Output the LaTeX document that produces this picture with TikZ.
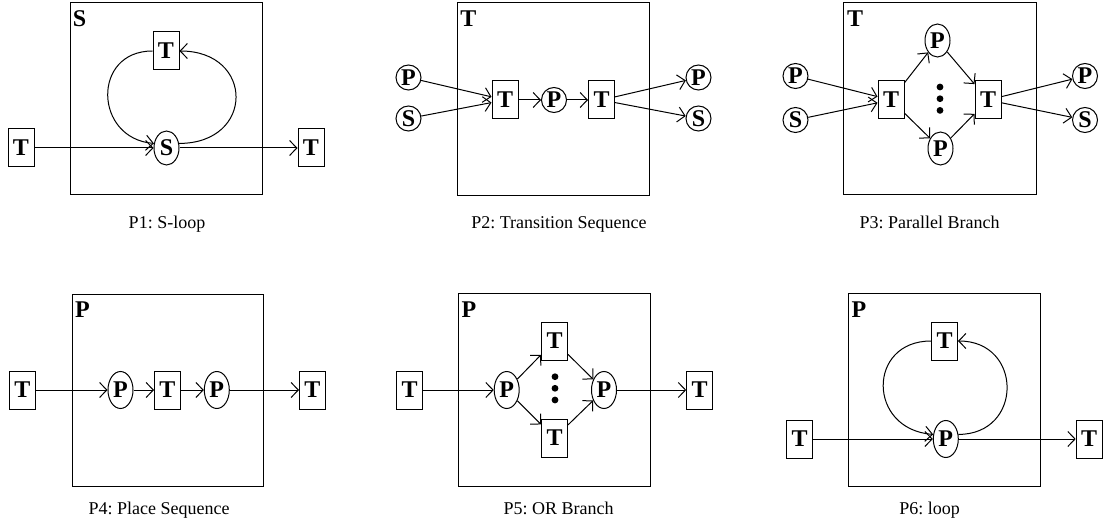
\documentclass[tikz,border=0pt]{standalone}
\usepackage{fontspec}
\setmainfont{Liberation Serif}
\usetikzlibrary{arrows.meta,shapes.geometric}
\frenchspacing
\begin{document}
\begin{tikzpicture}[x=0.5pt,y=-0.5pt,line width=0.5pt,
  lbl/.style={font=\fontsize{12}{14}\selectfont\bfseries,inner sep=0pt},
  tbox/.style={draw,lbl,minimum width=13pt,minimum height=19pt},
  pl/.style={draw,ellipse,lbl,minimum width=12.5pt,minimum height=#1},
  pl/.default=18.5pt,
  frame/.style={draw,line width=0.5pt},
  arr/.style={-{Straight Barb[length=3.6pt,width=7.5pt]}},
  captxt/.style={font=\fontsize{9}{11}\selectfont\frenchspacing,anchor=base},
  dot/.style={fill=black}]
\useasboundingbox (0,0) rectangle (1104,524);

% ---------- P1 ----------
\draw[frame] (70,3) rectangle (262,195);
\node[lbl] (p1l) at (79.5,19) {S};
\node[tbox] (p1a) at (21,148) {T};
\node[pl=17pt] (p1s) at (166.5,148) {S};
\node[tbox] (p1t) at (166,51) {T};
\node[tbox] (p1b) at (311,148) {T};
\draw[arr] (p1a) -- (p1s);
\draw[arr] (p1s) -- (p1b);
\draw[arr] (p1t.west) .. controls +(-61,0) and +(-60,-5) .. (p1s.160);
\draw[arr] (p1s.20) .. controls +(76,0) and +(75,0) .. (p1t.east);
\node[captxt] (p1c) at (167,228.3) {P1: S-loop};

% ---------- P2 ----------
\draw[frame] (457,3) rectangle (649,196);
\node[lbl] (p2l) at (468.3,19) {T};
\node[pl=12.5pt] (p2p) at (408.5,77.5) {P};
\node[pl=12.5pt] (p2s) at (408.5,118.5) {S};
\node[tbox] (p2t1) at (505,100) {T};
\node[pl=12.5pt] (p2m) at (554,100) {P};
\node[tbox] (p2t2) at (601.5,100) {T};
\node[pl=12.5pt] (p2q) at (698.5,77.5) {P};
\node[pl=12.5pt] (p2r) at (698.5,118.5) {S};
\draw[arr] (p2p) -- (p2t1);
\draw[arr] (p2s) -- (p2t1);
\draw[arr] (p2t1) -- (p2m);
\draw[arr] (p2m) -- (p2t2);
\draw[arr] (p2t2) -- (p2q);
\draw[arr] (p2t2) -- (p2r);
\node[captxt] (p2c) at (559,228.3) {P2: Transition Sequence};

% ---------- P3 ----------
\draw[frame] (843,3) rectangle (1036,195);
\node[lbl] (p3l) at (855,18.5) {T};
\node[pl=12.5pt] (p3p) at (795.5,76) {P};
\node[pl=12.5pt] (p3s) at (795.5,120) {S};
\node[tbox] (p3t1) at (891,100) {T};
\node[pl=16.5pt] (p3u) at (937.5,40.5) {P};
\node[pl=16.5pt] (p3d) at (940.5,148.5) {P};
\node[tbox] (p3t2) at (988,100) {T};
\node[pl=12.5pt] (p3q) at (1085,76) {P};
\node[pl=12.5pt] (p3r) at (1085,120) {S};
\fill[dot] (940,87) circle (1.7pt) (940,98.7) circle (1.7pt) (940,110.4) circle (1.7pt);
\draw[arr] (p3p) -- (p3t1);
\draw[arr] (p3s) -- (p3t1);
\draw[arr] (p3t1) -- (p3u);
\draw[arr] (p3t1) -- (p3d);
\draw[arr] (p3u) -- (p3t2);
\draw[arr] (p3d) -- (p3t2);
\draw[arr] (p3t2) -- (p3q);
\draw[arr] (p3t2) -- (p3r);
\node[captxt] (p3c) at (929.7,228.3) {P3: Parallel Branch};

% ---------- P4 ----------
\draw[frame] (72,294) rectangle (263,486);
\node[lbl] (p4l) at (82.5,309.5) {P};
\node[tbox] (p4a) at (22.5,390) {T};
\node[pl] (p4p1) at (120.5,390) {P};
\node[tbox] (p4t) at (167.5,390) {T};
\node[pl] (p4p2) at (216.8,390) {P};
\node[tbox] (p4b) at (312.5,390) {T};
\draw[arr] (p4a) -- (p4p1);
\draw[arr] (p4p1) -- (p4t);
\draw[arr] (p4t) -- (p4p2);
\draw[arr] (p4p2) -- (p4b);
\node[captxt] (p4c) at (159,514.5) {P4: Place Sequence};

% ---------- P5 ----------
\draw[frame] (458.5,293.5) rectangle (650,486);
\node[lbl] (p5l) at (469,310) {P};
\node[tbox] (p5a) at (409.5,390) {T};
\node[pl] (p5p1) at (506.7,390) {P};
\node[tbox] (p5u) at (554.5,341) {T};
\node[tbox] (p5d) at (554.5,438) {T};
\node[pl] (p5p2) at (604,390) {P};
\node[tbox] (p5b) at (699.7,390) {T};
\fill[dot] (555,376.7) circle (1.7pt) (555,388.3) circle (1.7pt) (555,400) circle (1.7pt);
\draw[arr] (p5a) -- (p5p1);
\draw[arr] (p5p1) -- (p5u);
\draw[arr] (p5p1) -- (p5d);
\draw[arr] (p5u) -- (p5p2);
\draw[arr] (p5d) -- (p5p2);
\draw[arr] (p5p2) -- (p5b);
\node[captxt] (p5c) at (558.7,514.5) {P5: OR Branch};

% ---------- P6 ----------
\draw[frame] (848.5,293.5) rectangle (1040,486);
\node[lbl] (p6l) at (859,310) {P};
\node[tbox] (p6a) at (799.7,439) {T};
\node[tbox] (p6t) at (944.5,341) {T};
\node[pl] (p6p) at (945.8,439) {P};
\node[tbox] (p6b) at (1089.2,439) {T};
\draw[arr] (p6a) -- (p6p);
\draw[arr] (p6p) -- (p6b);
\draw[arr] (p6t.west) .. controls +(-64,0) and +(-66,-5) .. (p6p.160);
\draw[arr] (p6p.20) .. controls +(65,0) and +(65,0) .. (p6t.east);
\node[captxt] (p6c) at (929.7,514.5) {P6: loop};
\end{tikzpicture}
\end{document}
